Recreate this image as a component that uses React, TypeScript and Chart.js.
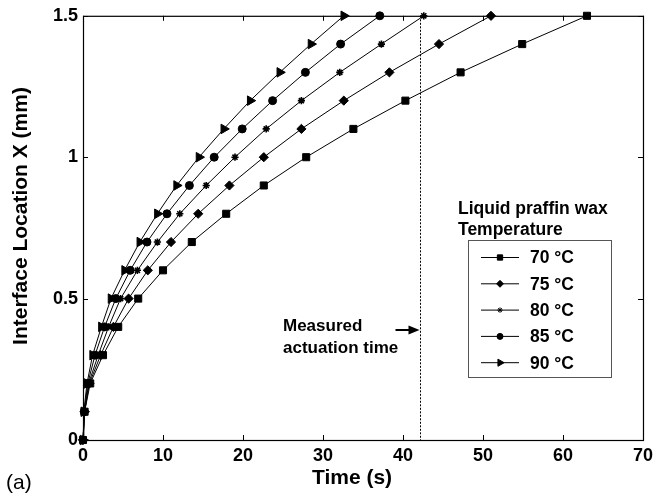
import React, { useEffect, useRef } from "react";
import { Chart, registerables } from "chart.js";
import { drawPoint } from "chart.js/helpers";

Chart.register(...registerables);

// Interface location X (mm) at each measured point
const interfaceLocation = [0, 0.1, 0.2, 0.3, 0.4, 0.5, 0.6, 0.7, 0.8, 0.9, 1.0, 1.1, 1.2, 1.3, 1.4, 1.5];
// Time (s) to reach each location, per liquid paraffin temperature
const time70 = [0, 0.2, 0.9, 2.5, 4.4, 6.9, 10.0, 13.6, 17.9, 22.6, 27.9, 33.8, 40.3, 47.2, 54.9, 63.0];
const time75 = [0, 0.2, 0.8, 2.2, 3.8, 5.7, 8.1, 11.0, 14.4, 18.3, 22.6, 27.3, 32.6, 38.3, 44.5, 51.0];
const time80 = [0, 0.2, 0.7, 1.9, 3.2, 4.7, 6.8, 9.3, 12.1, 15.4, 19.0, 22.9, 27.3, 32.1, 37.3, 42.6];
const time85 = [0, 0.15, 0.6, 1.5, 2.7, 4.1, 5.9, 8.0, 10.5, 13.3, 16.4, 19.9, 23.7, 27.8, 32.2, 37.1];
const time90 = [0, 0.1, 0.5, 1.2, 2.3, 3.5, 5.2, 7.1, 9.3, 11.7, 14.5, 17.6, 20.9, 24.6, 28.5, 32.6];

const seriesLabels = ["70 °C", "75 °C", "80 °C", "85 °C", "90 °C"];
const seriesTimes = [time70, time75, time80, time85, time90];
const markerStyles = ["rect", "rectRot", "star", "circle", "triangle"];
const markerRadii = [5, 4.6, 3.6, 4, 5.5];
const markerBorderWidths = [1, 1, 1.6, 1, 1];
const markerRotations = [0, 0, 0, 0, 90];

const xTickValues = [0, 10, 20, 30, 40, 50, 60, 70];
const yTickValues = [0, 0.5, 1, 1.5];
const actuationTime = 42.1;

const FONT = "'Liberation Sans', Arial, Helvetica, sans-serif";

const overlayPlugin = {
  id: "overlay",
  afterDraw(chart: any) {
    const ctx = chart.ctx as CanvasRenderingContext2D;
    const { left, right, top, bottom } = chart.chartArea;
    const xs = chart.scales.x;
    const ys = chart.scales.y;
    ctx.save();
    ctx.strokeStyle = "#000";
    ctx.fillStyle = "#000";

    // box
    ctx.lineWidth = 1.2;
    ctx.strokeRect(left + 0.5, top + 0.5, right - left, bottom - top);

    // inward ticks
    ctx.lineWidth = 1;
    const tl = 5;
    ctx.beginPath();
    xTickValues.forEach((v) => {
      const px = Math.round(xs.getPixelForValue(v)) + 0.5;
      ctx.moveTo(px, bottom);
      ctx.lineTo(px, bottom - tl);
      ctx.moveTo(px, top);
      ctx.lineTo(px, top + tl);
    });
    yTickValues.forEach((v) => {
      const py = Math.round(ys.getPixelForValue(v)) + 0.5;
      ctx.moveTo(left, py);
      ctx.lineTo(left + tl, py);
      ctx.moveTo(right, py);
      ctx.lineTo(right - tl, py);
    });
    ctx.stroke();

    // measured actuation time line
    const ax = Math.round(xs.getPixelForValue(actuationTime)) + 0.5;
    ctx.setLineDash([2, 1.5]);
    ctx.beginPath();
    ctx.moveTo(ax, top);
    ctx.lineTo(ax, bottom);
    ctx.stroke();
    ctx.setLineDash([]);

    // arrow
    const ay = 330;
    ctx.lineWidth = 2;
    ctx.beginPath();
    ctx.moveTo(ax - 25, ay);
    ctx.lineTo(ax - 9, ay);
    ctx.stroke();
    ctx.beginPath();
    ctx.moveTo(ax - 1, ay);
    ctx.lineTo(ax - 12, ay - 4.5);
    ctx.lineTo(ax - 12, ay + 4.5);
    ctx.closePath();
    ctx.fill();

    ctx.font = `bold 17px ${FONT}`;
    ctx.textAlign = "left";
    ctx.textBaseline = "alphabetic";
    ctx.fillText("Measured", 283, 331);
    ctx.fillText("actuation time", 283, 353);

    // legend
    ctx.font = `bold 17.5px ${FONT}`;
    ctx.fillText("Liquid praffin wax", 458, 214);
    ctx.fillText("Temperature", 458, 235);
    ctx.lineWidth = 1;
    ctx.strokeStyle = "#555";
    ctx.strokeRect(468.5, 240.5, 143, 137);
    ctx.strokeStyle = "#000";
    chart.data.datasets.forEach((ds: any, i: number) => {
      const y = 257.5 + i * 26.3;
      ctx.lineWidth = 1;
      ctx.beginPath();
      ctx.moveTo(481, y);
      ctx.lineTo(519, y);
      ctx.stroke();
      drawPoint(
        ctx,
        {
          pointStyle: ds.pointStyle,
          rotation: ds.pointRotation || 0,
          radius: ds.pointRadius * 0.75,
          borderWidth: ds.pointBorderWidth,
        } as any,
        500,
        y
      );
      ctx.fillStyle = "#000";
      ctx.textBaseline = "middle";
      ctx.fillText(ds.label, 530, y + 1);
    });

    // axis titles
    ctx.textAlign = "center";
    ctx.textBaseline = "middle";
    ctx.font = `bold 21px ${FONT}`;
    ctx.fillText("Time (s)", 352, 478);
    ctx.save();
    ctx.translate(21, 216);
    ctx.rotate(-Math.PI / 2);
    ctx.fillText("Interface Location X (mm)", 0, 0);
    ctx.restore();

    ctx.font = `21px ${FONT}`;
    ctx.textAlign = "left";
    ctx.fillText("(a)", 6, 483);

    ctx.restore();
  },
};

export default function App() {
  const canvasRef = useRef<HTMLCanvasElement>(null);

  useEffect(() => {
    if (!canvasRef.current) return;
    const datasets = seriesLabels.map((label, i) => ({
      label,
      data: seriesTimes[i].map((t, j) => ({ x: t, y: interfaceLocation[j] })),
      showLine: true,
      borderColor: "#000",
      backgroundColor: "#000",
      borderWidth: 1,
      pointStyle: markerStyles[i],
      pointRadius: markerRadii[i],
      pointRotation: markerRotations[i],
      pointBackgroundColor: "#000",
      pointBorderColor: "#000",
      pointBorderWidth: markerBorderWidths[i],
      clip: false,
    }));

    const chart = new Chart(canvasRef.current, {
      type: "scatter",
      data: { datasets } as any,
      options: {
        animation: false,
        responsive: false,
        events: [],
        layout: { padding: { top: 11, right: 10, left: 0, bottom: 0 } },
        plugins: { legend: { display: false }, tooltip: { enabled: false } },
        scales: {
          x: {
            type: "linear",
            min: 0,
            max: 70,
            grid: { display: false, drawTicks: false },
            border: { display: false },
            ticks: {
              stepSize: 10,
              padding: 5,
              color: "#000",
              font: { family: FONT, size: 18, weight: "bold" },
            },
            afterFit: (scale: any) => {
              scale.height = 60;
            },
          },
          y: {
            type: "linear",
            min: 0,
            max: 1.5,
            grid: { display: false, drawTicks: false },
            border: { display: false },
            ticks: {
              stepSize: 0.5,
              padding: 5,
              color: "#000",
              font: { family: FONT, size: 18, weight: "bold" },
              callback: (v: any) => String(v),
            },
            afterFit: (scale: any) => {
              scale.width = 83;
            },
          },
        },
      } as any,
      plugins: [overlayPlugin],
    });
    return () => chart.destroy();
  }, []);

  return (
    <div style={{ position: "fixed", left: 0, top: 0, width: 658, height: 500, background: "#fff" }}>
      <canvas ref={canvasRef} width={658} height={500} style={{ display: "block" }} />
    </div>
  );
}
